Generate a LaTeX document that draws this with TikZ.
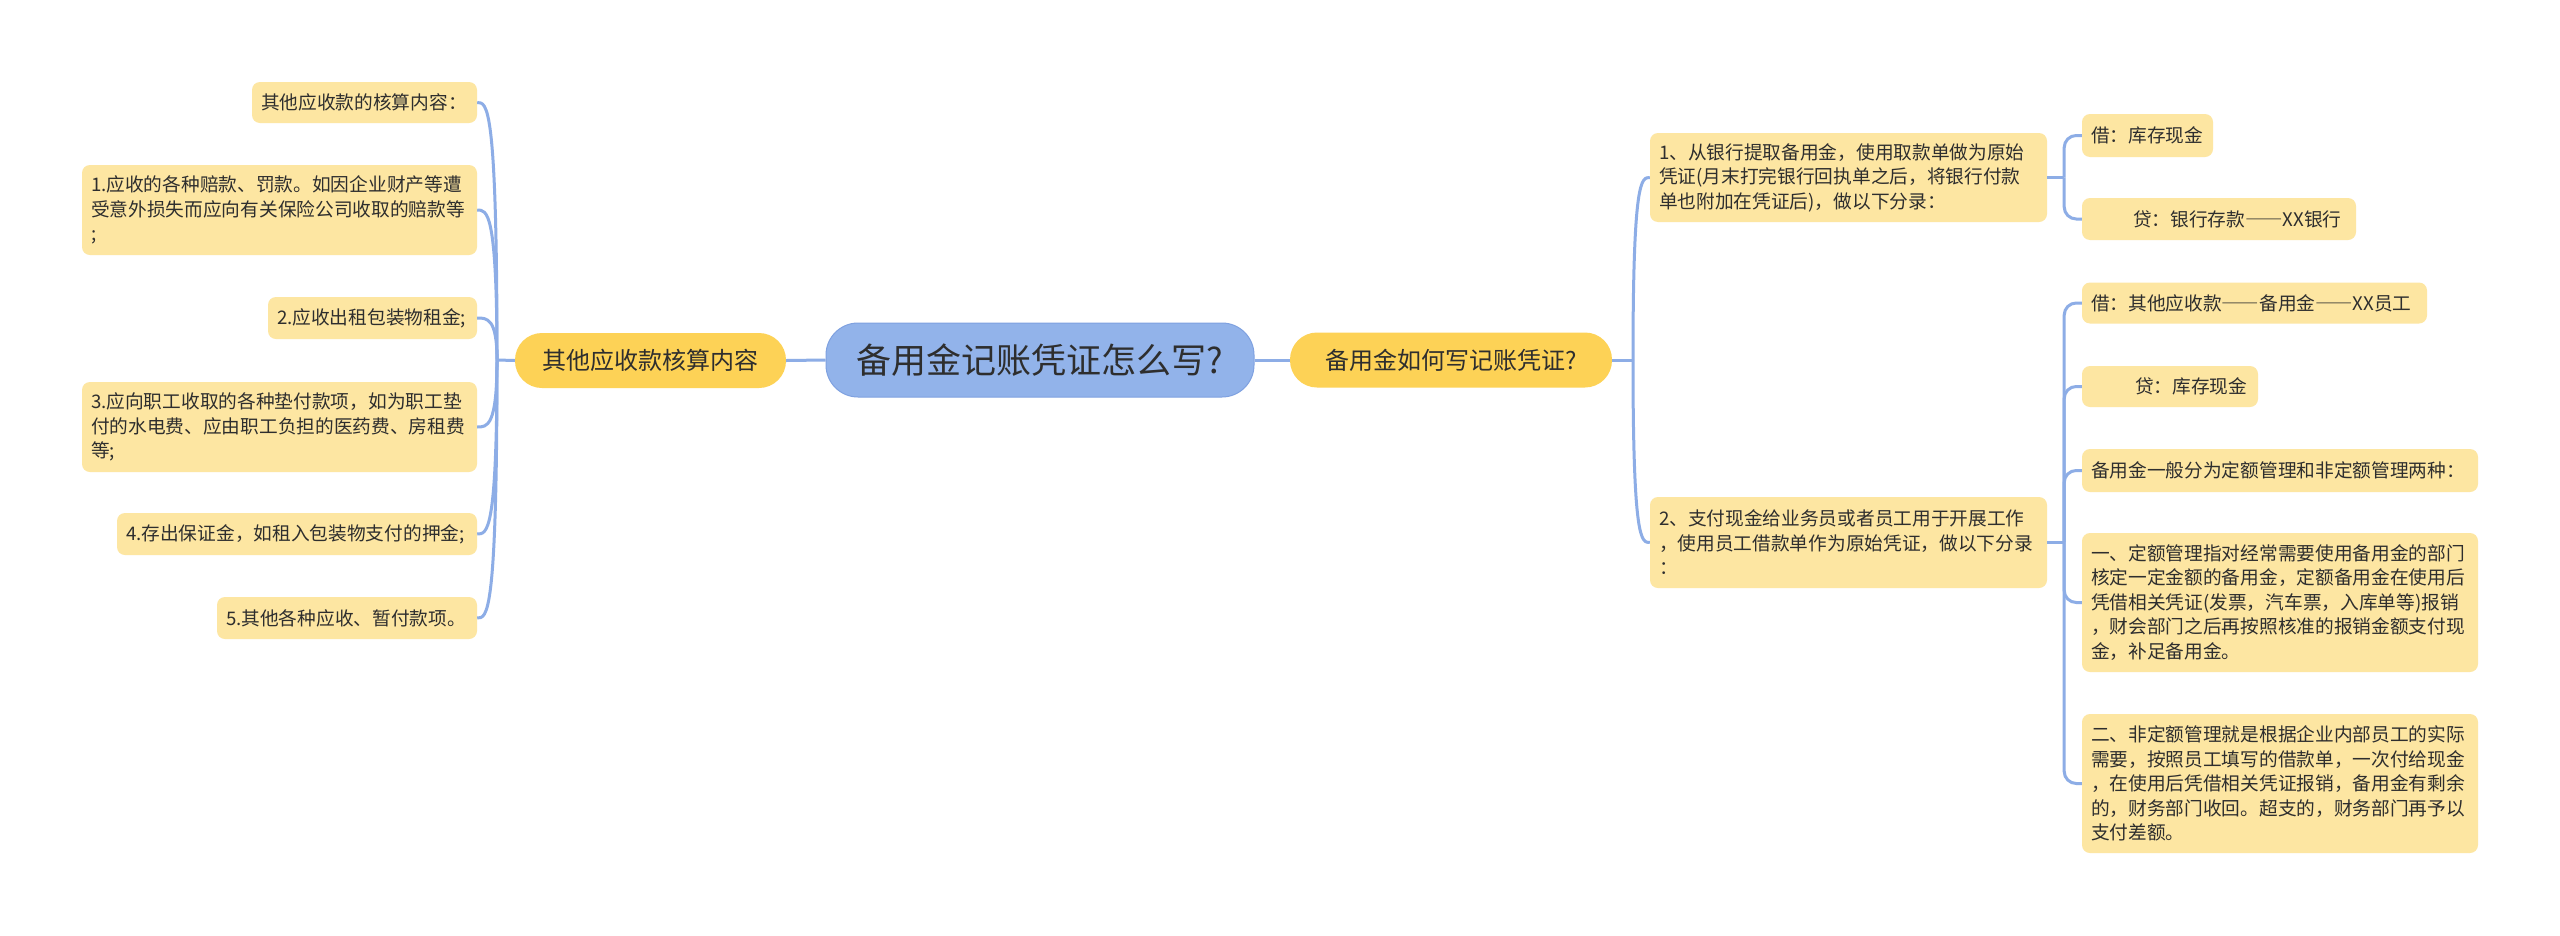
\documentclass[tikz,border=0pt]{standalone}
\usepackage{fontspec}
\setmainfont{Noto Sans CJK SC}
\usetikzlibrary{calc}
\definecolor{linec}{HTML}{8DADE6}
\definecolor{leafc}{HTML}{FDE6A2}
\definecolor{midc}{HTML}{FDD256}
\definecolor{rootc}{HTML}{92B3EA}
\definecolor{rootb}{HTML}{7FA1E0}
\definecolor{txt}{HTML}{2E2E2E}
\newcommand\leaffont{\fontsize{18.7}{24.5}\selectfont}
\newcommand\midfont{\fontsize{24}{28}\selectfont}
\newcommand\rootfont{\fontsize{35}{40}\selectfont}
\newcommand\fwdash{{\addfontfeature{RawFeature=+fwid}——}}
\tikzset{
  leaf/.style={fill=leafc, rounded corners=8pt, inner xsep=9pt, inner ysep=0pt,
    align=left, font=\leaffont, text=txt},
  midnode/.style={fill=midc, rounded corners=27pt, inner sep=0pt, align=center,
    font=\midfont, text=txt, minimum height=55pt},
  rootnode/.style={fill=rootc, draw=rootb, line width=1pt, rounded corners=32pt,
    inner sep=0pt, align=center, font=\rootfont, text=txt, minimum height=74pt},
  conn/.style={draw=linec, line width=3pt},
}
\begin{document}
\begin{tikzpicture}[x=1pt,y=-1pt]
\useasboundingbox[fill=white] (0,0) rectangle (2560,935);

% root and level 1
\node[rootnode, minimum width=428pt] (C) at (1040,360) {备用金记账凭证怎么写?};
\node[midnode, minimum width=271pt] (ML) at (650.5,360.5) {其他应收款核算内容};
\node[midnode, minimum width=322pt] (MR) at (1451,360) {备用金如何写记账凭证?};

% left leaves
\node[leaf, minimum width=225pt, minimum height=41pt, text width=207pt] (L0) at (364.5,102.5) {其他应收款的核算内容：};
\node[leaf, minimum width=395pt, minimum height=90pt, text width=377pt] (L1) at (279.5,210) {1.应收的各种赔款、罚款。如因企业财产等遭\\受意外损失而应向有关保险公司收取的赔款等\\;};
\node[leaf, minimum width=209pt, minimum height=42pt, text width=191pt] (L2) at (372.5,318) {2.应收出租包装物租金;};
\node[leaf, minimum width=395pt, minimum height=90pt, text width=377pt] (L3) at (279.5,427) {3.应向职工收取的各种垫付款项，如为职工垫\\付的水电费、应由职工负担的医药费、房租费\\等;};
\node[leaf, minimum width=360pt, minimum height=42pt, text width=342pt] (L4) at (297,534) {4.存出保证金，如租入包装物支付的押金;};
\node[leaf, minimum width=260pt, minimum height=42pt, text width=242pt] (L5) at (347,618) {5.其他各种应收、暂付款项。};

% right level 2
\node[leaf, minimum width=397pt, minimum height=89pt, text width=379pt] (R1) at (1848.5,177.5) {1、从银行提取备用金，使用取款单做为原始\\凭证(月末打完银行回执单之后，将银行付款\\单也附加在凭证后)，做以下分录：};
\node[leaf, minimum width=397pt, minimum height=91pt, text width=379pt] (R2) at (1848.5,542.5) {2、支付现金给业务员或者员工用于开展工作\\，使用员工借款单作为原始凭证，做以下分录\\：};

% right level 3
\node[leaf, minimum width=131pt, minimum height=43pt, text width=113pt] (R1a) at (2147.5,135.5) {借：库存现金};
\node[leaf, minimum width=274pt, minimum height=42pt, text width=256pt] (R1b) at (2219,219) {\hspace*{42pt}贷：银行存款\fwdash XX银行};
\node[leaf, minimum width=345pt, minimum height=41pt, text width=327pt] (R2a) at (2254.5,303) {借：其他应收款\fwdash 备用金\fwdash XX员工};
\node[leaf, minimum width=176pt, minimum height=41pt, text width=158pt] (R2b) at (2170,386.5) {\hspace*{44pt}贷：库存现金};
\node[leaf, minimum width=396pt, minimum height=43pt, text width=378pt] (R2c) at (2280,470.5) {备用金一般分为定额管理和非定额管理两种：};
\node[leaf, minimum width=396pt, minimum height=139pt, text width=378pt] (R2d) at (2280,602.5) {一、定额管理指对经常需要使用备用金的部门\\核定一定金额的备用金，定额备用金在使用后\\凭借相关凭证(发票，汽车票，入库单等)报销\\，财会部门之后再按照核准的报销金额支付现\\金，补足备用金。};
\node[leaf, minimum width=396pt, minimum height=139pt, text width=378pt] (R2e) at (2280,783.5) {二、非定额管理就是根据企业内部员工的实际\\需要，按照员工填写的借款单，一次付给现金\\，在使用后凭借相关凭证报销，备用金有剩余\\的，财务部门收回。超支的，财务部门再予以\\支付差额。};

% connectors root
\draw[conn] (C.west) -- (ML.east);
\draw[conn] (C.east) -- (MR.west);

% left fan
\coordinate (JL) at (497,360);
\draw[conn] (ML.west) -- (JL);
\foreach \n in {L0,L1,L2,L3,L4,L5}{
  \draw[conn] (JL) .. controls (JL |- \n.east) and ($(JL |- \n.east)!0.5!(\n.east)$) .. (\n.east);
}

% right fan
\coordinate (JR) at (1633,360);
\draw[conn] (MR.east) -- (JR);
\foreach \n in {R1,R2}{
  \draw[conn] (JR) .. controls (JR |- \n.west) and ($(JR |- \n.west)!0.5!(\n.west)$) .. (\n.west);
}

% level 3 elbows
\coordinate (J1) at ($(R1.east)+(17,0)$);
\draw[conn] (R1.east) -- (J1);
\foreach \n in {R1a,R1b}{
  \draw[conn, rounded corners=12pt] (J1) |- (\n.west);
}
\coordinate (J2) at ($(R2.east)+(17,0)$);
\draw[conn] (R2.east) -- (J2);
\foreach \n in {R2a,R2b,R2c,R2d,R2e}{
  \draw[conn, rounded corners=12pt] (J2) |- (\n.west);
}
\end{tikzpicture}
\end{document}
